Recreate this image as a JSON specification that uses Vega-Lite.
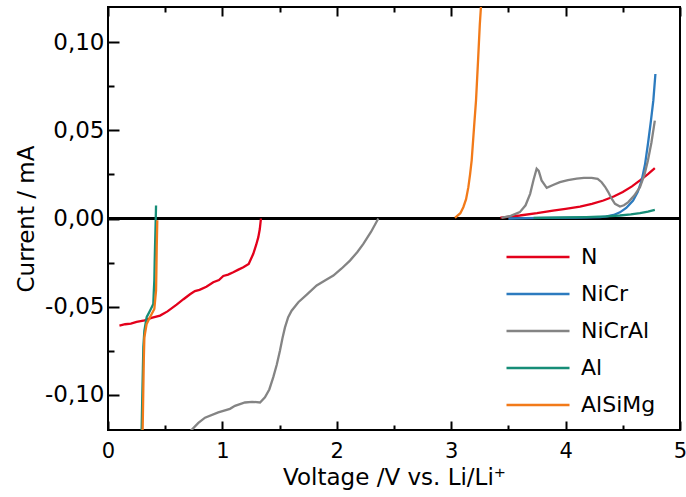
{
  "$schema": "https://vega.github.io/schema/vega-lite/v6.json",
  "width": 572,
  "height": 423,
  "autosize": {"type": "none"},
  "padding": {"left": 108, "top": 7, "right": 6, "bottom": 67},
  "background": "white",
  "config": {
    "view": {"stroke": "black", "strokeWidth": 2},
    "font": "DejaVu Sans",
    "axis": {
      "domain": false,
      "grid": false,
      "tickColor": "black",
      "tickWidth": 2,
      "labelFont": "DejaVu Sans",
      "labelFontSize": 22,
      "labelFontWeight": "normal",
      "labelColor": "black",
      "labelOverlap": false,
      "labelFlush": false,
      "labelBound": false,
      "titleFont": "DejaVu Sans",
      "titleFontSize": 23,
      "titleFontWeight": "normal",
      "titleColor": "black"
    },
    "legend": {
      "orient": "none",
      "legendX": 397,
      "legendY": 240,
      "padding": 0,
      "symbolType": "stroke",
      "symbolSize": 3969,
      "symbolStrokeWidth": 2.5,
      "labelFont": "DejaVu Sans",
      "labelFontSize": 22,
      "labelFontWeight": "normal",
      "labelColor": "black",
      "labelOffset": 10,
      "rowPadding": 15,
      "clipHeight": 20
    }
  },
  "data": {
    "values": [
      {"s": "N", "g": "a", "v": 0.10, "i": -0.0608},
      {"s": "N", "g": "a", "v": 0.15, "i": -0.0600},
      {"s": "N", "g": "a", "v": 0.20, "i": -0.0596},
      {"s": "N", "g": "a", "v": 0.25, "i": -0.0586},
      {"s": "N", "g": "a", "v": 0.32, "i": -0.0578},
      {"s": "N", "g": "a", "v": 0.38, "i": -0.0564},
      {"s": "N", "g": "a", "v": 0.455, "i": -0.0551},
      {"s": "N", "g": "a", "v": 0.52, "i": -0.0527},
      {"s": "N", "g": "a", "v": 0.60, "i": -0.0489},
      {"s": "N", "g": "a", "v": 0.66, "i": -0.0458},
      {"s": "N", "g": "a", "v": 0.717, "i": -0.0430},
      {"s": "N", "g": "a", "v": 0.76, "i": -0.0412},
      {"s": "N", "g": "a", "v": 0.80, "i": -0.0405},
      {"s": "N", "g": "a", "v": 0.86, "i": -0.0387},
      {"s": "N", "g": "a", "v": 0.92, "i": -0.0362},
      {"s": "N", "g": "a", "v": 0.97, "i": -0.0349},
      {"s": "N", "g": "a", "v": 1.008, "i": -0.0326},
      {"s": "N", "g": "a", "v": 1.05, "i": -0.0318},
      {"s": "N", "g": "a", "v": 1.095, "i": -0.0305},
      {"s": "N", "g": "a", "v": 1.14, "i": -0.0290},
      {"s": "N", "g": "a", "v": 1.183, "i": -0.0277},
      {"s": "N", "g": "a", "v": 1.23, "i": -0.0258},
      {"s": "N", "g": "a", "v": 1.27, "i": -0.0200},
      {"s": "N", "g": "a", "v": 1.295, "i": -0.0150},
      {"s": "N", "g": "a", "v": 1.314, "i": -0.0106},
      {"s": "N", "g": "a", "v": 1.327, "i": -0.0060},
      {"s": "N", "g": "a", "v": 1.337, "i": 0.0},
      {"s": "N", "g": "b", "v": 3.43, "i": 0.0005},
      {"s": "N", "g": "b", "v": 3.60, "i": 0.0017},
      {"s": "N", "g": "b", "v": 3.75, "i": 0.0030},
      {"s": "N", "g": "b", "v": 3.89, "i": 0.0045},
      {"s": "N", "g": "b", "v": 4.00, "i": 0.0055},
      {"s": "N", "g": "b", "v": 4.126, "i": 0.0068},
      {"s": "N", "g": "b", "v": 4.23, "i": 0.0083},
      {"s": "N", "g": "b", "v": 4.33, "i": 0.0102},
      {"s": "N", "g": "b", "v": 4.42, "i": 0.0125},
      {"s": "N", "g": "b", "v": 4.50, "i": 0.0150},
      {"s": "N", "g": "b", "v": 4.58, "i": 0.0182},
      {"s": "N", "g": "b", "v": 4.65, "i": 0.0216},
      {"s": "N", "g": "b", "v": 4.72, "i": 0.0252},
      {"s": "N", "g": "b", "v": 4.78, "i": 0.0286},
      {"s": "NiCr", "g": "b", "v": 3.50, "i": 0.0},
      {"s": "NiCr", "g": "b", "v": 3.80, "i": 0.0003},
      {"s": "NiCr", "g": "b", "v": 4.10, "i": 0.0005},
      {"s": "NiCr", "g": "b", "v": 4.30, "i": 0.0008},
      {"s": "NiCr", "g": "b", "v": 4.36, "i": 0.0012},
      {"s": "NiCr", "g": "b", "v": 4.42, "i": 0.0020},
      {"s": "NiCr", "g": "b", "v": 4.475, "i": 0.0035},
      {"s": "NiCr", "g": "b", "v": 4.53, "i": 0.0060},
      {"s": "NiCr", "g": "b", "v": 4.59, "i": 0.0102},
      {"s": "NiCr", "g": "b", "v": 4.63, "i": 0.0150},
      {"s": "NiCr", "g": "b", "v": 4.665, "i": 0.0216},
      {"s": "NiCr", "g": "b", "v": 4.695, "i": 0.0310},
      {"s": "NiCr", "g": "b", "v": 4.72, "i": 0.0424},
      {"s": "NiCr", "g": "b", "v": 4.745, "i": 0.0550},
      {"s": "NiCr", "g": "b", "v": 4.767, "i": 0.0670},
      {"s": "NiCr", "g": "b", "v": 4.785, "i": 0.0820},
      {"s": "NiCrAl", "g": "a", "v": 0.70, "i": -0.1225},
      {"s": "NiCrAl", "g": "a", "v": 0.73, "i": -0.1200},
      {"s": "NiCrAl", "g": "a", "v": 0.79, "i": -0.1160},
      {"s": "NiCrAl", "g": "a", "v": 0.848, "i": -0.1130},
      {"s": "NiCrAl", "g": "a", "v": 0.964, "i": -0.1100},
      {"s": "NiCrAl", "g": "a", "v": 1.066, "i": -0.1080},
      {"s": "NiCrAl", "g": "a", "v": 1.11, "i": -0.1063},
      {"s": "NiCrAl", "g": "a", "v": 1.197, "i": -0.1044},
      {"s": "NiCrAl", "g": "a", "v": 1.26, "i": -0.1040},
      {"s": "NiCrAl", "g": "a", "v": 1.329, "i": -0.1044},
      {"s": "NiCrAl", "g": "a", "v": 1.372, "i": -0.1015},
      {"s": "NiCrAl", "g": "a", "v": 1.41, "i": -0.0970},
      {"s": "NiCrAl", "g": "a", "v": 1.445, "i": -0.0900},
      {"s": "NiCrAl", "g": "a", "v": 1.475, "i": -0.0830},
      {"s": "NiCrAl", "g": "a", "v": 1.503, "i": -0.0750},
      {"s": "NiCrAl", "g": "a", "v": 1.525, "i": -0.0680},
      {"s": "NiCrAl", "g": "a", "v": 1.547, "i": -0.0618},
      {"s": "NiCrAl", "g": "a", "v": 1.575, "i": -0.0560},
      {"s": "NiCrAl", "g": "a", "v": 1.605, "i": -0.0523},
      {"s": "NiCrAl", "g": "a", "v": 1.664, "i": -0.0475},
      {"s": "NiCrAl", "g": "a", "v": 1.74, "i": -0.0430},
      {"s": "NiCrAl", "g": "a", "v": 1.824, "i": -0.0380},
      {"s": "NiCrAl", "g": "a", "v": 1.90, "i": -0.0350},
      {"s": "NiCrAl", "g": "a", "v": 1.97, "i": -0.0324},
      {"s": "NiCrAl", "g": "a", "v": 2.04, "i": -0.0285},
      {"s": "NiCrAl", "g": "a", "v": 2.115, "i": -0.0239},
      {"s": "NiCrAl", "g": "a", "v": 2.18, "i": -0.0190},
      {"s": "NiCrAl", "g": "a", "v": 2.232, "i": -0.0144},
      {"s": "NiCrAl", "g": "a", "v": 2.30, "i": -0.0075},
      {"s": "NiCrAl", "g": "a", "v": 2.363, "i": 0.0},
      {"s": "NiCrAl", "g": "b", "v": 3.44, "i": 0.0004},
      {"s": "NiCrAl", "g": "b", "v": 3.52, "i": 0.0015},
      {"s": "NiCrAl", "g": "b", "v": 3.60, "i": 0.0036},
      {"s": "NiCrAl", "g": "b", "v": 3.65, "i": 0.0075},
      {"s": "NiCrAl", "g": "b", "v": 3.69, "i": 0.0140},
      {"s": "NiCrAl", "g": "b", "v": 3.72, "i": 0.0220},
      {"s": "NiCrAl", "g": "b", "v": 3.747, "i": 0.0282},
      {"s": "NiCrAl", "g": "b", "v": 3.765, "i": 0.0270},
      {"s": "NiCrAl", "g": "b", "v": 3.79, "i": 0.0216},
      {"s": "NiCrAl", "g": "b", "v": 3.835, "i": 0.0174},
      {"s": "NiCrAl", "g": "b", "v": 3.89, "i": 0.0190},
      {"s": "NiCrAl", "g": "b", "v": 3.95, "i": 0.0206},
      {"s": "NiCrAl", "g": "b", "v": 4.02, "i": 0.0218},
      {"s": "NiCrAl", "g": "b", "v": 4.097, "i": 0.0226},
      {"s": "NiCrAl", "g": "b", "v": 4.16, "i": 0.0230},
      {"s": "NiCrAl", "g": "b", "v": 4.228, "i": 0.0231},
      {"s": "NiCrAl", "g": "b", "v": 4.28, "i": 0.0225},
      {"s": "NiCrAl", "g": "b", "v": 4.315, "i": 0.0206},
      {"s": "NiCrAl", "g": "b", "v": 4.345, "i": 0.0180},
      {"s": "NiCrAl", "g": "b", "v": 4.373, "i": 0.0150},
      {"s": "NiCrAl", "g": "b", "v": 4.40, "i": 0.0115},
      {"s": "NiCrAl", "g": "b", "v": 4.432, "i": 0.0083},
      {"s": "NiCrAl", "g": "b", "v": 4.475, "i": 0.0068},
      {"s": "NiCrAl", "g": "b", "v": 4.51, "i": 0.0075},
      {"s": "NiCrAl", "g": "b", "v": 4.548, "i": 0.0093},
      {"s": "NiCrAl", "g": "b", "v": 4.60, "i": 0.0130},
      {"s": "NiCrAl", "g": "b", "v": 4.65, "i": 0.0178},
      {"s": "NiCrAl", "g": "b", "v": 4.69, "i": 0.0250},
      {"s": "NiCrAl", "g": "b", "v": 4.72, "i": 0.0330},
      {"s": "NiCrAl", "g": "b", "v": 4.75, "i": 0.0430},
      {"s": "NiCrAl", "g": "b", "v": 4.78, "i": 0.0555},
      {"s": "Al", "g": "a", "v": 0.292, "i": -0.1225},
      {"s": "Al", "g": "a", "v": 0.294, "i": -0.1195},
      {"s": "Al", "g": "a", "v": 0.300, "i": -0.1000},
      {"s": "Al", "g": "a", "v": 0.305, "i": -0.0850},
      {"s": "Al", "g": "a", "v": 0.309, "i": -0.0730},
      {"s": "Al", "g": "a", "v": 0.318, "i": -0.0636},
      {"s": "Al", "g": "a", "v": 0.338, "i": -0.0560},
      {"s": "Al", "g": "a", "v": 0.367, "i": -0.0523},
      {"s": "Al", "g": "a", "v": 0.396, "i": -0.0485},
      {"s": "Al", "g": "a", "v": 0.400, "i": -0.0420},
      {"s": "Al", "g": "a", "v": 0.405, "i": -0.0352},
      {"s": "Al", "g": "a", "v": 0.408, "i": -0.0250},
      {"s": "Al", "g": "a", "v": 0.411, "i": -0.0163},
      {"s": "Al", "g": "a", "v": 0.417, "i": -0.0011},
      {"s": "Al", "g": "a", "v": 0.420, "i": 0.0074},
      {"s": "Al", "g": "b", "v": 3.72, "i": 0.0004},
      {"s": "Al", "g": "b", "v": 4.00, "i": 0.0006},
      {"s": "Al", "g": "b", "v": 4.18, "i": 0.0008},
      {"s": "Al", "g": "b", "v": 4.35, "i": 0.0012},
      {"s": "Al", "g": "b", "v": 4.475, "i": 0.0017},
      {"s": "Al", "g": "b", "v": 4.57, "i": 0.0023},
      {"s": "Al", "g": "b", "v": 4.65, "i": 0.0030},
      {"s": "Al", "g": "b", "v": 4.72, "i": 0.0039},
      {"s": "Al", "g": "b", "v": 4.78, "i": 0.0049},
      {"s": "AlSiMg", "g": "a", "v": 0.300, "i": -0.1225},
      {"s": "AlSiMg", "g": "a", "v": 0.303, "i": -0.1195},
      {"s": "AlSiMg", "g": "a", "v": 0.308, "i": -0.1000},
      {"s": "AlSiMg", "g": "a", "v": 0.313, "i": -0.0800},
      {"s": "AlSiMg", "g": "a", "v": 0.318, "i": -0.0674},
      {"s": "AlSiMg", "g": "a", "v": 0.338, "i": -0.0598},
      {"s": "AlSiMg", "g": "a", "v": 0.367, "i": -0.0560},
      {"s": "AlSiMg", "g": "a", "v": 0.405, "i": -0.0513},
      {"s": "AlSiMg", "g": "a", "v": 0.420, "i": -0.0409},
      {"s": "AlSiMg", "g": "a", "v": 0.423, "i": -0.0300},
      {"s": "AlSiMg", "g": "a", "v": 0.426, "i": -0.0163},
      {"s": "AlSiMg", "g": "a", "v": 0.431, "i": -0.0010},
      {"s": "AlSiMg", "g": "b", "v": 3.033, "i": 0.0004},
      {"s": "AlSiMg", "g": "b", "v": 3.08, "i": 0.0030},
      {"s": "AlSiMg", "g": "b", "v": 3.106, "i": 0.0064},
      {"s": "AlSiMg", "g": "b", "v": 3.13, "i": 0.0110},
      {"s": "AlSiMg", "g": "b", "v": 3.15, "i": 0.0178},
      {"s": "AlSiMg", "g": "b", "v": 3.165, "i": 0.0250},
      {"s": "AlSiMg", "g": "b", "v": 3.179, "i": 0.0330},
      {"s": "AlSiMg", "g": "b", "v": 3.20, "i": 0.0520},
      {"s": "AlSiMg", "g": "b", "v": 3.217, "i": 0.0670},
      {"s": "AlSiMg", "g": "b", "v": 3.235, "i": 0.0900},
      {"s": "AlSiMg", "g": "b", "v": 3.25, "i": 0.1100},
      {"s": "AlSiMg", "g": "b", "v": 3.265, "i": 0.1250}
    ]
  },
  "layer": [
    {
      "mark": {"type": "rule", "color": "black", "strokeWidth": 2},
      "encoding": {
        "y": {"datum": 0, "type": "quantitative", "title": "Current / mA"}
      }
    },
    {
      "mark": {"type": "line", "clip": true, "strokeWidth": 2.3},
      "encoding": {
        "x": {
          "field": "v", "type": "quantitative",
          "scale": {"domain": [0, 5], "nice": false, "zero": false},
          "title": "Voltage /V vs. Li/Li⁺",
          "axis": {
            "orient": "bottom",
            "values": [0, 0.5, 1, 1.5, 2, 2.5, 3, 3.5, 4, 4.5, 5],
            "labelExpr": "datum.value % 1 == 0 ? datum.value : ''",
            "labelFontSize": 21,
            "tickSize": {"condition": {"test": "datum.value % 1 != 0", "value": -5}, "value": -9},
            "labelPadding": 19,
            "titlePadding": 1
          }
        },
        "y": {
          "field": "i", "type": "quantitative",
          "scale": {"domain": [-0.12, 0.12], "nice": false, "zero": false},
          "title": "Current / mA",
          "axis": {
            "values": [-0.1, -0.075, -0.05, -0.025, 0, 0.025, 0.05, 0.075, 0.1],
            "labelExpr": "round(datum.value*40) % 2 != 0 ? '' : (datum.value < 0 ? '-' : '') + replace(format(abs(datum.value), '.2f'), '.', ',')",
            "labelFontSize": 23,
            "tickSize": {"condition": {"test": "round(datum.value*40) % 2 != 0", "value": -6}, "value": -11},
            "labelPadding": 15,
            "titlePadding": 6
          }
        },
        "color": {
          "field": "s", "type": "nominal",
          "scale": {
            "domain": ["N", "NiCr", "NiCrAl", "Al", "AlSiMg"],
            "range": ["#e3001b", "#2c7bbf", "#848484", "#168d77", "#f27a19"]
          },
          "legend": {"title": null}
        },
        "detail": {"field": "g"},
        "strokeWidth": {"condition": {"test": "datum.s === 'NiCrAl'", "value": 3}, "value": 2.3}
      }
    },
    {
      "mark": {"type": "rule", "opacity": 0},
      "encoding": {
        "x": {
          "field": "v", "type": "quantitative",
          "axis": {
            "orient": "top",
            "values": [0, 0.5, 1, 1.5, 2, 2.5, 3, 3.5, 4, 4.5, 5],
            "labels": false,
            "title": null,
            "tickSize": {"condition": {"test": "datum.value % 1 != 0", "value": -5}, "value": -9}
          }
        }
      }
    }
  ],
  "resolve": {"axis": {"x": "independent"}}
}
